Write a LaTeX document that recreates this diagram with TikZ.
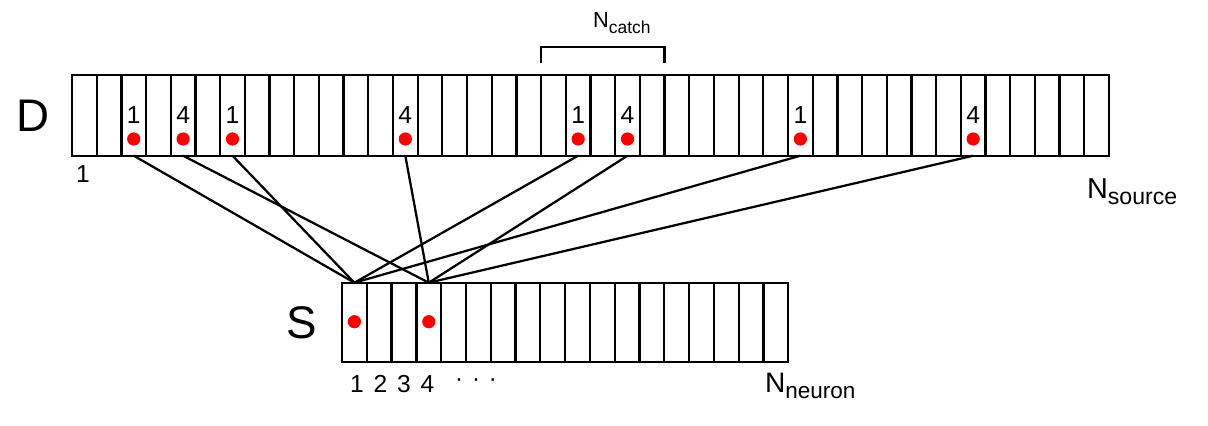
\documentclass[tikz,border=0pt]{standalone}
\usepackage{fontspec}
\setmainfont{Liberation Sans}
\usetikzlibrary{positioning}

\newcommand{\subN}[1]{N\raisebox{-.24em}{\scalebox{.8}{#1}}}

\begin{document}
\begin{tikzpicture}[x=0.025cm,y=-0.025cm,line width=1.6pt,
    dot/.style={circle,fill=red,inner sep=0pt,minimum size=0.33cm},
    digit/.style={anchor=base,inner sep=0pt,font=\fontsize{17.5}{20}\selectfont},
    biglabel/.style={anchor=base,inner sep=0pt,font=\fontsize{32.5}{36}\selectfont},
    nlabel/.style={anchor=base west,inner sep=0pt}]
    \useasboundingbox (0,0) rectangle (1208,426);

    % Source array D
    \begin{scope}
        \draw (72,75) rectangle (1109,155.7);
        \foreach \i in {1,...,41} {
            \draw ({72+\i*24.69},75) -- ({72+\i*24.69},155.7);
        }
        \foreach \i in {1,...,42} {
            \coordinate (d\i) at ({72+(\i-0.5)*24.69},155.7);
        }
        \node[biglabel] (dname) at (33,132) {D};
        \node[digit] (dfirst) at (83,182) {1};
        \node[nlabel,font=\fontsize{20.5}{24}\selectfont] (nsource) at (1086,198) {\subN{source}};
    \end{scope}

    % Catch window
    \draw ({72+19*24.69},63.3) -- ({72+19*24.69},46.7) -- ({72+24*24.69},46.7) -- ({72+24*24.69},63.3);
    \node[nlabel,font=\fontsize{15.5}{18}\selectfont] (ncatch) at (592,28) {\subN{catch}};

    % Target array S
    \begin{scope}
        \draw (342,282.7) rectangle (788.3,362.3);
        \foreach \i in {1,...,17} {
            \draw ({342+\i*24.79},282.7) -- ({342+\i*24.79},362.3);
        }
        \foreach \i in {1,...,18} {
            \coordinate (s\i) at ({342+(\i-0.5)*24.79},282.7);
        }
        \node[biglabel] (sname) at (302,338) {S};
        \foreach \i in {1,...,4} {
            \node[digit] (snum\i) at ({357+(\i-1)*23.5},392) {\i};
        }
        \node[inner sep=0pt,font=\fontsize{17}{20}\selectfont] (sdots) at (476,383) {·\hspace{.37em}·\hspace{.37em}·};
        \node[nlabel,font=\fontsize{20}{24}\selectfont] (nneuron) at (764,392) {\subN{neuron}};
        \node[dot] (q1) at (354.4,321.7) {};
        \node[dot] (q4) at (428.8,321.7) {};
    \end{scope}

    % Spikes and connections
    \foreach \cell/\val in {3/1,5/4,7/1,14/4,21/1,23/4,30/1,37/4} {
        \node[dot] (p\cell) at ({72+(\cell-0.5)*24.69},139) {};
        \node[digit] (v\cell) at ({72+(\cell-0.5)*24.69},124) {\val};
        \draw (d\cell) -- (s\val);
    }
\end{tikzpicture}
\end{document}
